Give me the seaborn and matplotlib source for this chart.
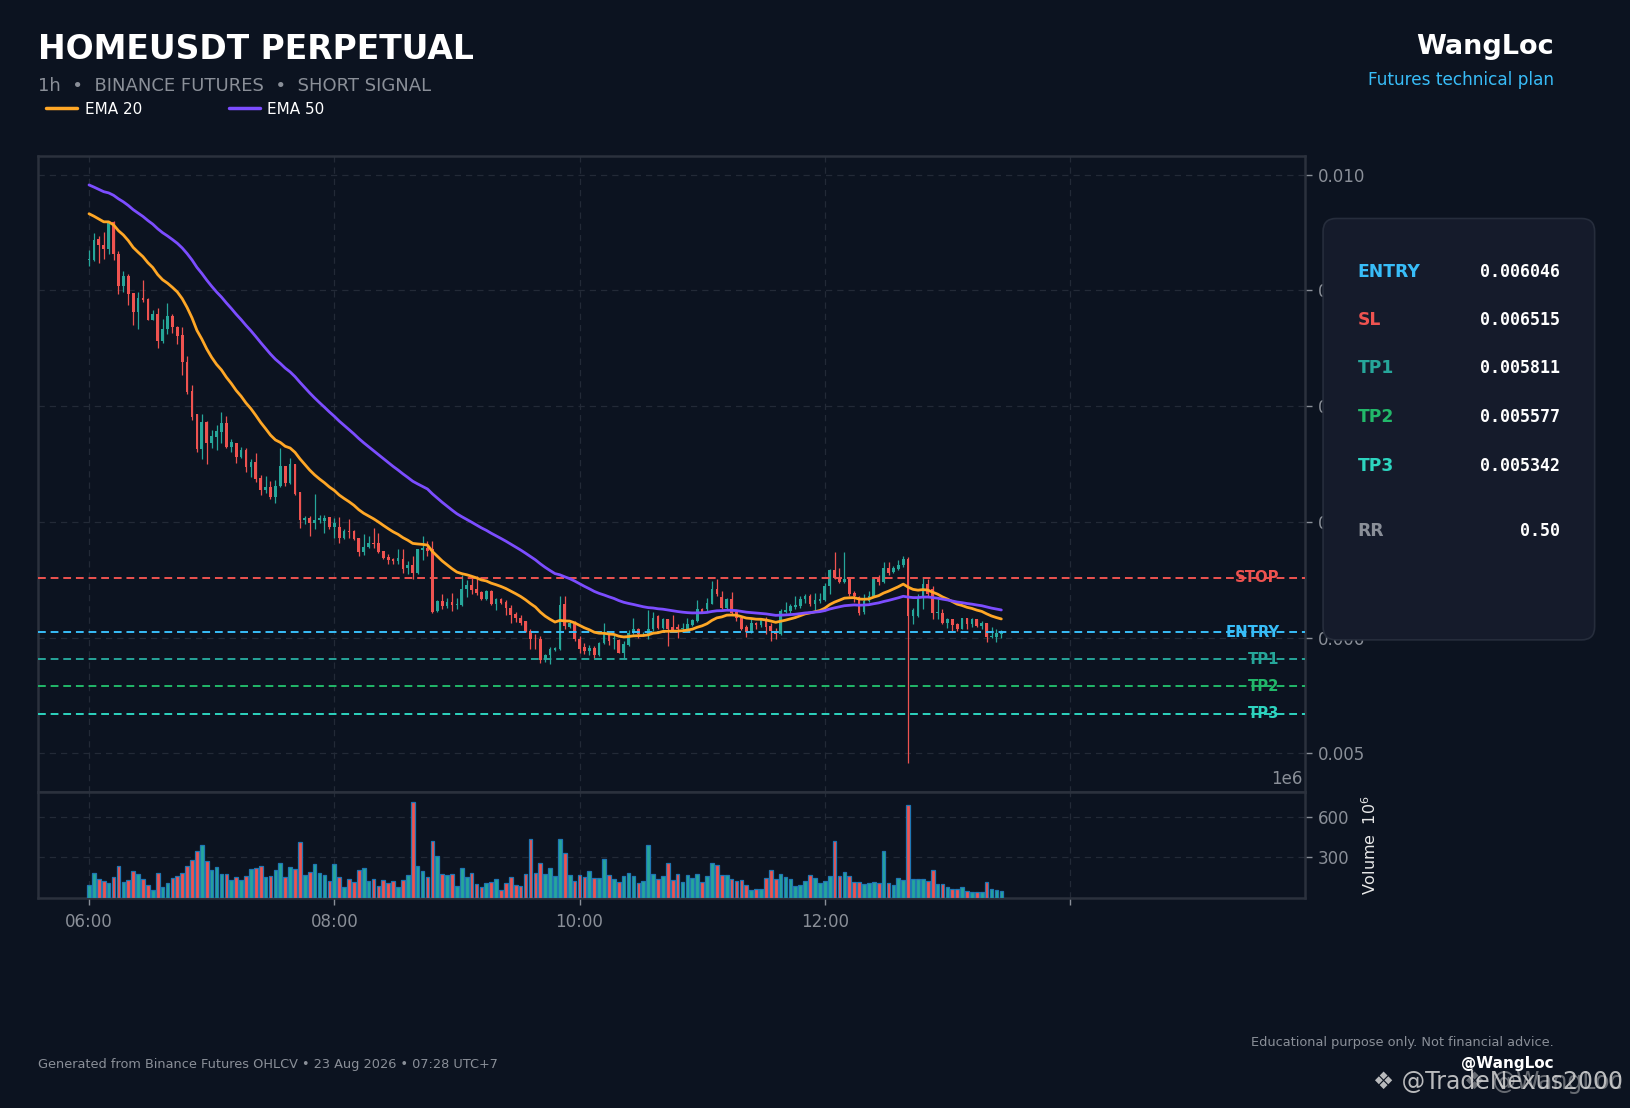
import numpy as np
import pandas as pd
import matplotlib
matplotlib.use("Agg")
import matplotlib.pyplot as plt
import matplotlib.transforms as mtransforms
from matplotlib.patches import FancyBboxPatch
from matplotlib.lines import Line2D
from matplotlib.ticker import FormatStrFormatter
import seaborn as sns

# ---------------- data ----------------
opens = [0.009260, 0.009266, 0.009447, 0.009396, 0.009361, 0.009591, 0.009318, 0.009041, 0.009128, 0.008978,
         0.008811, 0.008938, 0.008929, 0.008748, 0.008800, 0.008561, 0.008670, 0.008782, 0.008687, 0.008618,
         0.008385, 0.008135, 0.007928, 0.007628, 0.007867, 0.007680, 0.007732, 0.007775, 0.007858, 0.007651,
         0.007680, 0.007559, 0.007617, 0.007470, 0.007513, 0.007375, 0.007271, 0.007297, 0.007219, 0.007309,
         0.007481, 0.007337, 0.007496, 0.007254, 0.007015, 0.007029, 0.006992, 0.007015, 0.007010, 0.007038,
         0.006955, 0.006957, 0.006857, 0.006923, 0.006917, 0.006857, 0.006739, 0.006782, 0.006819, 0.006814,
         0.006744, 0.006693, 0.006675, 0.006661, 0.006681, 0.006600, 0.006624, 0.006557, 0.006756, 0.006770,
         0.006762, 0.006226, 0.006318, 0.006269, 0.006304, 0.006284, 0.006281, 0.006416, 0.006451, 0.006416,
         0.006390, 0.006330, 0.006405, 0.006287, 0.006330, 0.006307, 0.006258, 0.006200, 0.006172, 0.006140,
         0.006059, 0.005990, 0.005984, 0.005803, 0.005849, 0.005893, 0.005898, 0.006287, 0.006091, 0.006114,
         0.005984, 0.005921, 0.005884, 0.005907, 0.005846, 0.005950, 0.006028, 0.005985, 0.005979, 0.005869,
         0.005939, 0.006036, 0.006071, 0.006028, 0.006033, 0.006071, 0.006186, 0.006085, 0.006157, 0.006094,
         0.006094, 0.006071, 0.006077, 0.006105, 0.006143, 0.006249, 0.006244, 0.006292, 0.006416, 0.006353,
         0.006258, 0.006336, 0.006221, 0.006172, 0.006094, 0.006048, 0.006128, 0.006105, 0.006151, 0.006100,
         0.006056, 0.006028, 0.006221, 0.006229, 0.006267, 0.006272, 0.006336, 0.006359, 0.006292, 0.006316,
         0.006321, 0.006445, 0.006580, 0.006511, 0.006480, 0.006508, 0.006382, 0.006353, 0.006221, 0.006316,
         0.006359, 0.006503, 0.006480, 0.006598, 0.006566, 0.006595, 0.006623, 0.006675, 0.006186, 0.006186,
         0.006344, 0.006459, 0.006422, 0.006215, 0.006215, 0.006123, 0.006157, 0.006114, 0.006077, 0.006166,
         0.006114, 0.006157, 0.006100, 0.006123, 0.006005, 0.006005, 0.006034]
highs = [0.009352, 0.009496, 0.009468, 0.009505, 0.009597, 0.009597, 0.009338, 0.009171, 0.009145, 0.008978,
         0.008984, 0.009093, 0.008935, 0.008828, 0.008852, 0.008754, 0.008892, 0.008797, 0.008690, 0.008685,
         0.008437, 0.008184, 0.007930, 0.007930, 0.007870, 0.007798, 0.007838, 0.007951, 0.007913, 0.007717,
         0.007682, 0.007645, 0.007640, 0.007539, 0.007599, 0.007404, 0.007398, 0.007352, 0.007360, 0.007640,
         0.007485, 0.007553, 0.007500, 0.007258, 0.007051, 0.007051, 0.007237, 0.007055, 0.007055, 0.007045,
         0.007030, 0.007044, 0.006934, 0.007027, 0.006926, 0.006862, 0.006897, 0.006882, 0.006949, 0.006906,
         0.006750, 0.006721, 0.006690, 0.006762, 0.006762, 0.006661, 0.006704, 0.006768, 0.006882, 0.006837,
         0.006834, 0.006324, 0.006379, 0.006344, 0.006387, 0.006344, 0.006540, 0.006494, 0.006531, 0.006531,
         0.006405, 0.006410, 0.006410, 0.006344, 0.006340, 0.006324, 0.006278, 0.006220, 0.006192, 0.006145,
         0.006071, 0.006027, 0.006013, 0.005860, 0.005918, 0.005915, 0.006359, 0.006359, 0.006143, 0.006143,
         0.006013, 0.005950, 0.005933, 0.005927, 0.005964, 0.006123, 0.006042, 0.006028, 0.005984, 0.005970,
         0.006065, 0.006166, 0.006085, 0.006045, 0.006238, 0.006220, 0.006192, 0.006172, 0.006160, 0.006192,
         0.006114, 0.006128, 0.006172, 0.006157, 0.006321, 0.006258, 0.006344, 0.006488, 0.006508, 0.006402,
         0.006344, 0.006396, 0.006238, 0.006186, 0.006105, 0.006157, 0.006134, 0.006172, 0.006180, 0.006123,
         0.006085, 0.006244, 0.006310, 0.006292, 0.006359, 0.006359, 0.006373, 0.006379, 0.006382, 0.006388,
         0.006474, 0.006595, 0.006739, 0.006598, 0.006739, 0.006510, 0.006402, 0.006355, 0.006373, 0.006402,
         0.006508, 0.006537, 0.006652, 0.006652, 0.006618, 0.006670, 0.006704, 0.006698, 0.006258, 0.006373,
         0.006517, 0.006503, 0.006445, 0.006330, 0.006249, 0.006172, 0.006163, 0.006123, 0.006172, 0.006172,
         0.006172, 0.006160, 0.006143, 0.006125, 0.006094, 0.006077, 0.006065]
lows = [0.009208, 0.009252, 0.009237, 0.009272, 0.009315, 0.009260, 0.008970, 0.008987, 0.008872, 0.008699,
        0.008667, 0.008903, 0.008745, 0.008742, 0.008503, 0.008546, 0.008624, 0.008633, 0.008538, 0.008267,
        0.008106, 0.007879, 0.007605, 0.007539, 0.007502, 0.007634, 0.007625, 0.007683, 0.007634, 0.007605,
        0.007510, 0.007548, 0.007429, 0.007386, 0.007343, 0.007231, 0.007251, 0.007199, 0.007165, 0.007305,
        0.007314, 0.007323, 0.007231, 0.006951, 0.006978, 0.006877, 0.006934, 0.006992, 0.006905, 0.006934,
        0.006862, 0.006819, 0.006848, 0.006860, 0.006839, 0.006704, 0.006710, 0.006773, 0.006770, 0.006733,
        0.006675, 0.006638, 0.006632, 0.006638, 0.006554, 0.006546, 0.006508, 0.006552, 0.006670, 0.006704,
        0.006215, 0.006221, 0.006244, 0.006252, 0.006232, 0.006244, 0.006275, 0.006353, 0.006373, 0.006370,
        0.006324, 0.006325, 0.006284, 0.006238, 0.006290, 0.006195, 0.006128, 0.006137, 0.006105, 0.006050,
        0.005901, 0.005898, 0.005783, 0.005790, 0.005769, 0.005885, 0.005895, 0.006071, 0.006085, 0.005970,
        0.005869, 0.005855, 0.005846, 0.005826, 0.005840, 0.005941, 0.005933, 0.005898, 0.005864, 0.005826,
        0.005927, 0.006028, 0.005993, 0.006015, 0.005984, 0.006056, 0.006077, 0.006071, 0.005927, 0.006048,
        0.005999, 0.006056, 0.006071, 0.006100, 0.006137, 0.006209, 0.006229, 0.006287, 0.006359, 0.006244,
        0.006244, 0.006200, 0.006143, 0.006065, 0.006005, 0.006042, 0.006071, 0.006094, 0.006028, 0.005970,
        0.005984, 0.006020, 0.006209, 0.006215, 0.006244, 0.006258, 0.006301, 0.006272, 0.006229, 0.006301,
        0.006316, 0.006373, 0.006503, 0.006474, 0.006474, 0.006359, 0.006307, 0.006192, 0.006200, 0.006307,
        0.006353, 0.006454, 0.006474, 0.006537, 0.006554, 0.006583, 0.006612, 0.004919, 0.006114, 0.006180,
        0.006244, 0.006359, 0.006157, 0.006157, 0.006114, 0.006085, 0.006056, 0.006056, 0.006071, 0.006071,
        0.006094, 0.006095, 0.006077, 0.005961, 0.005999, 0.005964, 0.005999]
closes = [0.009272, 0.009439, 0.009390, 0.009361, 0.009591, 0.009315, 0.009041, 0.009128, 0.008972, 0.008811,
          0.008938, 0.008921, 0.008748, 0.008800, 0.008561, 0.008667, 0.008782, 0.008682, 0.008610, 0.008379,
          0.008126, 0.007910, 0.007628, 0.007867, 0.007680, 0.007738, 0.007781, 0.007858, 0.007651, 0.007686,
          0.007559, 0.007617, 0.007470, 0.007513, 0.007369, 0.007274, 0.007297, 0.007219, 0.007314, 0.007481,
          0.007337, 0.007496, 0.007245, 0.007015, 0.007029, 0.006986, 0.007012, 0.007032, 0.007030, 0.006955,
          0.006990, 0.006857, 0.006917, 0.006911, 0.006848, 0.006739, 0.006785, 0.006819, 0.006805, 0.006739,
          0.006687, 0.006670, 0.006658, 0.006684, 0.006592, 0.006624, 0.006557, 0.006762, 0.006770, 0.006744,
          0.006221, 0.006318, 0.006269, 0.006304, 0.006281, 0.006290, 0.006422, 0.006451, 0.006408, 0.006382,
          0.006330, 0.006405, 0.006287, 0.006330, 0.006295, 0.006252, 0.006192, 0.006166, 0.006128, 0.006054,
          0.005984, 0.005984, 0.005803, 0.005852, 0.005898, 0.005907, 0.006284, 0.006100, 0.006128, 0.005984,
          0.005898, 0.005884, 0.005907, 0.005846, 0.005956, 0.006028, 0.005970, 0.005995, 0.005869, 0.005941,
          0.006042, 0.006071, 0.006028, 0.006032, 0.006077, 0.006172, 0.006085, 0.006157, 0.006071, 0.006056,
          0.006071, 0.006085, 0.006114, 0.006151, 0.006244, 0.006221, 0.006295, 0.006422, 0.006373, 0.006258,
          0.006336, 0.006209, 0.006172, 0.006071, 0.006048, 0.006128, 0.006105, 0.006151, 0.006091, 0.006056,
          0.006028, 0.006229, 0.006238, 0.006272, 0.006278, 0.006336, 0.006359, 0.006292, 0.006321, 0.006330,
          0.006445, 0.006580, 0.006511, 0.006480, 0.006508, 0.006373, 0.006359, 0.006215, 0.006316, 0.006359,
          0.006503, 0.006480, 0.006598, 0.006554, 0.006603, 0.006623, 0.006675, 0.006186, 0.006235, 0.006344,
          0.006459, 0.006373, 0.006215, 0.006218, 0.006123, 0.006157, 0.006105, 0.006077, 0.006166, 0.006114,
          0.006157, 0.006100, 0.006123, 0.006005, 0.006008, 0.006042, 0.006048]
volumes_m = [95, 183, 139, 122, 110, 154, 234, 117, 132, 198, 176, 139, 93, 59, 183, 80, 110, 146, 161, 180,
             234, 278, 344, 388, 271, 205, 227, 176, 176, 132, 154, 132, 161, 212, 220, 234, 154, 161, 205, 256,
             154, 227, 212, 410, 168, 190, 249, 183, 168, 124, 249, 154, 80, 139, 117, 205, 220, 124, 139, 88,
             132, 110, 122, 80, 132, 168, 710, 234, 198, 154, 417, 307, 176, 168, 176, 88, 220, 154, 183, 102,
             80, 110, 117, 139, 59, 110, 154, 95, 88, 176, 432, 183, 256, 176, 220, 161, 439, 329, 168, 124,
             168, 154, 198, 146, 146, 285, 168, 139, 117, 161, 183, 161, 110, 124, 388, 176, 139, 161, 256, 132,
             176, 117, 168, 146, 176, 117, 161, 256, 241, 168, 168, 139, 124, 132, 95, 59, 66, 66, 146, 205,
             139, 176, 154, 139, 88, 95, 124, 168, 146, 110, 124, 161, 417, 161, 190, 161, 117, 117, 102, 110,
             117, 110, 344, 110, 95, 146, 132, 688, 139, 139, 139, 124, 205, 102, 102, 80, 66, 66, 80, 51,
             44, 44, 44, 117, 66, 59, 51]
ema20_first = 0.009663
ema50_first = 0.009912

tick_idx = [0, 50, 100, 150, 200]
tick_labels = ["06:00", "08:00", "10:00", "12:00", ""]
price_ticks = [0.005, 0.006, 0.007, 0.008, 0.009, 0.010]

level_names = ["STOP", "ENTRY", "TP1", "TP2", "TP3"]
level_values = [0.006515, 0.006046, 0.005811, 0.005577, 0.005342]
panel_labels = ["ENTRY", "SL", "TP1", "TP2", "TP3", "RR"]
panel_values = ["0.006046", "0.006515", "0.005811", "0.005577", "0.005342", "0.50"]

# ---------------- style ----------------
BG = "#0c1320"
PANEL = "#151b2b"
GRID = "#232a37"
SPINE = "#2b313d"
MUTED = "#8a8f98"
GREEN = "#26a69a"
RED = "#ef5350"
C_ENTRY = "#38bdf8"
C_TP1 = "#26a69a"
C_TP2 = "#22b86a"
C_TP3 = "#2dd4bf"
level_colors = [RED, C_ENTRY, C_TP1, C_TP2, C_TP3]
panel_colors = [C_ENTRY, RED, C_TP1, C_TP2, C_TP3, MUTED]

sns.set_theme(style="dark")
plt.rcParams["font.family"] = ["DejaVu Sans"]
plt.rcParams["axes.facecolor"] = BG
plt.rcParams["figure.facecolor"] = BG

o = np.array(opens); h = np.array(highs); l = np.array(lows); c = np.array(closes)
v = np.array(volumes_m, dtype=float)
x = np.arange(len(c))
up = c >= o
cols = np.where(up, GREEN, RED)

ema20 = pd.Series(np.r_[ema20_first, c[1:]]).ewm(span=20, adjust=False).mean().values
ema50 = pd.Series(np.r_[ema50_first, c[1:]]).ewm(span=50, adjust=False).mean().values
df = pd.DataFrame({"x": x, "EMA 20": ema20, "EMA 50": ema50})

fig = plt.figure(figsize=(16.31, 11.08), dpi=100)
fig.patch.set_facecolor(BG)
ax = fig.add_axes([0.023, 0.2854, 0.7774, 0.5738])
axv = fig.add_axes([0.023, 0.1897, 0.7774, 0.0957], sharex=ax)

for a in (ax, axv):
    a.set_facecolor(BG)
    a.grid(True, color=GRID, ls=(0, (5, 4)), lw=0.9)
    for s in a.spines.values():
        s.set_color(SPINE)
        s.set_linewidth(1.8)

# candles
ax.vlines(x, l, h, colors=cols, lw=0.9, zorder=2)
body_h = np.maximum(np.abs(c - o), 0.000006)
ax.bar(x, body_h, bottom=np.minimum(o, c), width=0.55, color=cols, zorder=3, linewidth=0)

# EMAs
sns.lineplot(data=df, x="x", y="EMA 20", ax=ax, color="#ffa726", lw=2.0, zorder=4)
sns.lineplot(data=df, x="x", y="EMA 50", ax=ax, color="#7c4dff", lw=2.0, zorder=4)

# levels
trans = mtransforms.blended_transform_factory(ax.transAxes, ax.transData)
for name, val, col in zip(level_names, level_values, level_colors):
    ax.axhline(val, color=col, ls=(0, (4, 2.5)), lw=1.4, zorder=3)
    ax.text(0.9795, val, name, transform=trans, ha="right", va="center", color=col,
            fontsize=10.7, fontweight="bold", zorder=5)

ax.set_xlim(-10.5, 248)
ax.set_ylim(0.004667, 0.010162)
ax.set_yticks(price_ticks)
ax.yaxis.set_major_formatter(FormatStrFormatter("%.3f"))
ax.yaxis.tick_right()
ax.tick_params(axis="y", colors=MUTED, labelsize=12, length=5, width=1, pad=4)
ax.tick_params(axis="x", bottom=False, labelbottom=False)
ax.set_xlabel(""); ax.set_ylabel("")
ax.text(0.998, 0.006, "1e6", transform=ax.transAxes, ha="right", va="bottom", color=MUTED, fontsize=12)

# volume
axv.bar(x, v, width=0.75, color=cols, edgecolor="#1f77b4", linewidth=0.9, zorder=3)
axv.set_ylim(0, 785)
axv.set_yticks([300, 600])
axv.yaxis.tick_right()
axv.yaxis.set_label_position("right")
axv.set_ylabel("Volume  $10^6$", color="#e8e8e8", fontsize=11.5, labelpad=8)
axv.tick_params(axis="y", colors=MUTED, labelsize=12, length=5, width=1, pad=4)
axv.set_xticks(tick_idx)
axv.set_xticklabels(tick_labels)
axv.tick_params(axis="x", colors=MUTED, labelsize=12, length=5, width=1, pad=6, bottom=True)
axv.set_xlabel("")

# header
fig.text(0.023, 0.955, "HOMEUSDT PERPETUAL", color="white", fontsize=23.8, fontweight="bold",
         ha="left", va="center")
fig.text(0.023, 0.922, "1h  \u2022  BINANCE FUTURES  \u2022  SHORT SIGNAL", color=MUTED, fontsize=13,
         ha="left", va="center")
handles = [Line2D([0], [0], color="#ffa726", lw=2.5), Line2D([0], [0], color="#7c4dff", lw=2.5)]
fig.legend(handles, ["EMA 20", "EMA 50"], loc="center left", bbox_to_anchor=(0.0285, 0.9014),
           ncol=2, frameon=False, fontsize=11, labelcolor="white", handlelength=2.0,
           handletextpad=0.5, columnspacing=5.7, borderpad=0, borderaxespad=0)
fig.text(0.9528, 0.9577, "WangLoc", color="white", fontsize=19.5, fontweight="bold", ha="right", va="center")
fig.text(0.9528, 0.9277, "Futures technical plan", color=C_ENTRY, fontsize=12.2, ha="right", va="center")

# side panel
panel = FancyBboxPatch((0.8112, 0.4225), 0.1665, 0.3803, boxstyle="round,pad=0,rounding_size=0.008",
                       mutation_aspect=1631 / 1108, transform=fig.transFigure, facecolor=PANEL,
                       edgecolor="#262d3c", lw=1.2, zorder=5)
fig.add_artist(panel)
rows_y = [0.7549, 0.7108, 0.6676, 0.6235, 0.5793, 0.5211]
for lab, val, col, yy in zip(panel_labels, panel_values, panel_colors, rows_y):
    fig.text(0.8323, yy, lab, color=col, fontsize=12.3, fontweight="bold", ha="left", va="center", zorder=6)
    fig.text(0.9566, yy, val, color="white", fontsize=12, fontweight="bold", ha="right", va="center",
             family="DejaVu Sans Mono", zorder=6)

# footer
fig.text(0.023, 0.0394, "Generated from Binance Futures OHLCV \u2022 23 Aug 2026 \u2022 07:28 UTC+7",
         color=MUTED, fontsize=9.3, ha="left", va="center")
fig.text(0.9528, 0.0592, "Educational purpose only. Not financial advice.", color=MUTED, fontsize=9.3,
         ha="right", va="center")
fig.text(0.9528, 0.0404, "@WangLoc", color="white", fontsize=11, fontweight="bold", ha="right", va="center")
fig.text(0.9948, 0.0235, "\u2756 @TradeNexus2000", color="#d8d8d8", fontsize=17, ha="right", va="center",
         alpha=0.85, zorder=7)
fig.text(0.9948, 0.0235, "\u2756 @WangLoc", color="#d8d8d8", fontsize=17, ha="right", va="center",
         alpha=0.45, zorder=7)

fig.savefig("out.png", dpi=100, facecolor=BG)
